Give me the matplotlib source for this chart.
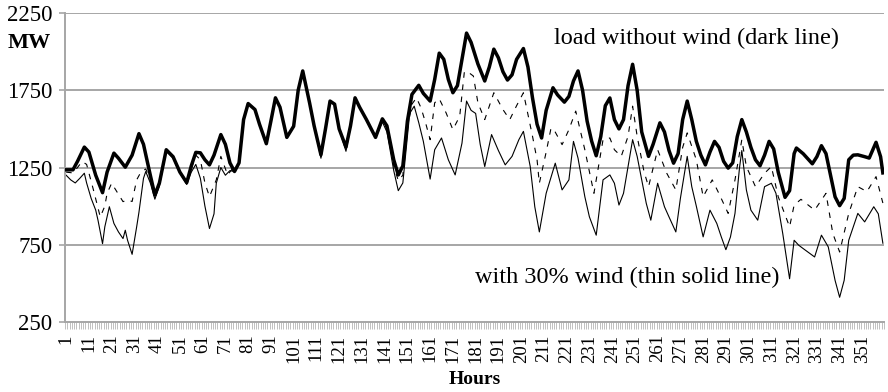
import matplotlib
matplotlib.use("Agg")
import matplotlib.pyplot as plt
import numpy as np

# ---- data ----
hours_dark = [1,4,6,9,11,14,17,19,22,24,27,30,33,35,38,40,42,45,48,51,54,56,58,60,62,64,66,69,71,73,75,77,79,81,84,86,89,91,93,95,98,101,103,105,108,110,113,115,117,119,121,124,126,128,130,133,137,140,142,145,147,149,151,153,156,158,161,163,165,167,169,171,173,175,177,179,182,185,187,189,191,193,195,197,199,202,204,206,208,210,212,215,217,220,222,224,226,228,230,232,234,236,238,240,242,244,246,248,250,252,254,257,259,262,264,266,268,270,272,274,276,278,280,282,284,286,288,290,292,294,296,298,300,302,304,306,308,310,312,314,317,319,321,322,325,329,331,333,335,337,339,341,343,345,347,349,352,354,357,359,360]
load_dark = [1235,1235,1290,1382,1350,1200,1087,1220,1343,1310,1252,1330,1469,1400,1200,1072,1150,1365,1320,1220,1152,1260,1348,1345,1300,1267,1330,1463,1400,1280,1224,1280,1560,1664,1625,1530,1404,1550,1701,1640,1445,1517,1750,1875,1669,1520,1332,1500,1680,1660,1500,1382,1520,1701,1640,1560,1445,1565,1520,1300,1202,1260,1550,1723,1782,1730,1680,1820,1990,1950,1820,1734,1780,1950,2120,2060,1920,1810,1900,2016,1960,1870,1816,1850,1950,2020,1900,1700,1530,1441,1620,1766,1720,1673,1710,1810,1875,1750,1550,1420,1326,1450,1650,1700,1560,1500,1560,1780,1918,1750,1480,1322,1400,1539,1480,1360,1278,1340,1560,1680,1560,1420,1330,1267,1350,1419,1380,1290,1246,1280,1450,1560,1480,1380,1300,1261,1330,1419,1370,1220,1057,1100,1340,1376,1339,1274,1320,1391,1340,1200,1060,1003,1050,1300,1330,1332,1320,1311,1413,1320,1215]

hours_mid = [1,4,6,8,10,13,16,18,19,21,23,26,28,30,32,34,36,38,40,42,45,48,51,54,56,58,60,62,64,67,69,72,74,75,77,79,81,84,86,89,91,93,95,98,101,103,105,108,110,113,115,117,119,121,124,126,128,130,133,137,140,142,145,147,149,151,153,155,157,159,161,163,165,168,171,174,176,177,180,182,185,189,193,196,199,202,206,208,209,212,214,215,219,222,225,229,233,237,240,242,245,248,250,252,255,257,261,265,269,272,274,278,281,285,288,292,295,298,300,304,308,311,314,319,321,324,330,335,338,341,345,349,353,357,360]
load_mid = [1220,1215,1250,1289,1270,1105,930,1000,1083,1148,1100,1029,1040,1030,1170,1224,1240,1170,1060,1140,1360,1315,1218,1146,1240,1330,1300,1150,1061,1170,1322,1202,1240,1224,1280,1560,1664,1625,1530,1404,1550,1701,1640,1445,1517,1750,1875,1669,1520,1320,1495,1680,1660,1500,1370,1515,1701,1640,1560,1442,1555,1500,1260,1165,1200,1500,1660,1701,1636,1539,1430,1669,1695,1604,1495,1582,1864,1875,1842,1669,1560,1734,1625,1560,1650,1734,1452,1300,1148,1350,1495,1506,1398,1495,1615,1365,1083,1430,1441,1365,1322,1452,1647,1452,1224,1126,1365,1213,1105,1380,1474,1300,1061,1170,1080,953,1170,1430,1256,1126,1213,1256,1061,866,1007,1044,974,1083,823,703,953,1126,1094,1191,1020]

hours_30 = [1,3,5,7,9,10,12,14,15,17,18,20,22,24,26,27,28,30,32,33,35,36,38,40,42,45,48,51,54,56,58,60,62,64,66,67,69,71,73,75,77,79,81,84,86,89,91,93,95,98,101,103,105,108,110,113,115,117,119,121,124,126,128,130,133,137,140,142,145,147,149,151,152,154,156,158,161,163,166,169,172,175,177,179,181,183,185,188,191,194,197,200,202,205,207,209,212,216,219,222,224,226,229,231,234,237,240,242,244,246,248,250,252,254,256,258,261,264,266,269,271,274,276,278,281,284,287,289,291,293,295,297,298,300,302,305,308,311,313,314,316,319,321,323,325,330,333,336,339,341,343,345,349,352,356,358,360]
load_30 = [1200,1170,1150,1180,1213,1150,1050,974,909,757,866,996,888,833,790,844,779,688,866,960,1180,1224,1150,1045,1130,1355,1310,1215,1140,1220,1270,1180,1000,855,950,1148,1250,1200,1230,1224,1280,1560,1664,1625,1530,1404,1550,1701,1640,1445,1517,1750,1875,1669,1520,1310,1490,1680,1660,1500,1355,1510,1701,1640,1560,1440,1545,1480,1230,1100,1150,1450,1600,1647,1540,1420,1175,1365,1441,1300,1202,1408,1680,1620,1600,1400,1256,1463,1360,1267,1322,1430,1484,1256,996,833,1083,1278,1105,1170,1419,1311,1061,931,812,1170,1202,1148,1007,1083,1256,1430,1322,1170,1018,909,1148,996,930,833,1050,1322,1126,1000,801,974,888,800,718,800,953,1250,1360,1105,974,909,1126,1148,1083,996,822,530,779,747,725,671,812,736,519,410,520,779,953,898,996,950,760]

n_hours = 360
label_hours = list(range(1, n_hours + 1, 10))
y_ticks = [250, 750, 1250, 1750, 2250]

# ---- figure ----
plt.rcParams['font.family'] = ['Liberation Serif', 'DejaVu Serif']
fig = plt.figure(figsize=(8.88, 3.92), dpi=100)
ax = fig.add_axes([65/888, 1-322/392, 819/888, 309/392])

grid_c = '#a6a6a6'
for yv in y_ticks[1:]:
    ax.axhline(yv, color=grid_c, lw=1.4, zorder=0)

ax.plot(hours_30, load_30, color='black', lw=0.8, zorder=2)
ax.plot(hours_mid, load_mid, color='black', lw=0.8, linestyle=(0, (5, 6)), zorder=3)
ax.plot(hours_dark, load_dark, color='black', lw=2.5, zorder=4, solid_joinstyle='round')

ax.set_xlim(0.5, n_hours + 0.5)
ax.set_ylim(250, 2250)
ax.set_yticks(y_ticks)
ax.set_yticklabels([str(v) for v in y_ticks], fontsize=16.5)
ax.set_xticks(label_hours)
ax.set_xticklabels([str(h) for h in label_hours], rotation=90, fontsize=13.5)
ax.set_xticks(np.arange(0.5, n_hours + 1, 1), minor=True)
ax.tick_params(axis='x', which='major', length=0, pad=9)
ax.tick_params(axis='x', which='minor', length=5, width=0.5, color=grid_c)
ax.tick_params(axis='y', which='major', length=4, width=1.2, color=grid_c, pad=5)

for s in ['top', 'right']:
    ax.spines[s].set_visible(False)
for s in ['left', 'bottom']:
    ax.spines[s].set_color(grid_c)
    ax.spines[s].set_linewidth(1.4)

ax.text(278, 2088, 'load without wind (dark line)', fontsize=17.5, ha='center', va='center')
ax.text(247.5, 541, 'with 30% wind (thin solid line)', fontsize=17.5, ha='center', va='center')

fig.text(29/888, 1-43/392, 'MW', fontsize=16, fontweight='bold', ha='center', va='center')
fig.text(474.5/888, 1-379/392, 'Hours', fontsize=14, fontweight='bold', ha='center', va='center')

fig.savefig('out.png', dpi=100)
